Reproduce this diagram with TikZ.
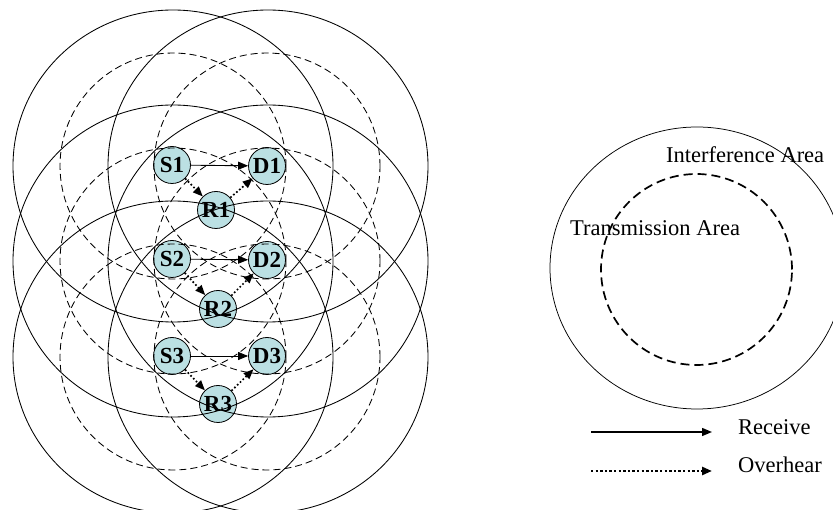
\documentclass[tikz,border=0pt]{standalone}
\usepackage{fontspec}
\setmainfont{Liberation Serif}
\usetikzlibrary{arrows.meta}
\definecolor{nodefill}{RGB}{187,224,227}
\begin{document}
\begin{tikzpicture}[x=1pt,y=-1pt,
  station/.style={circle,draw=black,line width=0.8pt,fill=nodefill,minimum size=37pt,inner sep=0pt,font=\fontsize{23}{23}\selectfont\bfseries},
  tiphead/.style={-{Triangle[length=10pt,width=8pt]}},
  recv/.style={line width=0.9pt,tiphead},
  over/.style={line width=1.7pt,dash pattern=on 1.7pt off 2.2pt,tiphead},
  intf/.style={line width=0.85pt},
  trans/.style={line width=0.85pt,dash pattern=on 7pt off 4pt},
  lbl/.style={anchor=base west,inner sep=0pt,font=\fontsize{22.5}{22.5}\selectfont}]
\path[use as bounding box, clip] (0,0) rectangle (833,510);
\fill[white] (0,0) rectangle (833,510);

% stations
\node[station] (S1) at (172,165) {S1};
\node[station] (D1) at (267,166) {D1};
\node[station] (R1) at (216,210) {R1};
\node[station] (S2) at (172,259) {S2};
\node[station] (D2) at (267,260) {D2};
\node[station] (R2) at (218,309) {R2};
\node[station] (S3) at (172,356) {S3};
\node[station] (D3) at (267,356) {D3};
\node[station] (R3) at (218,404) {R3};

% interference areas (solid)
\foreach \cx in {173,268}{
  \foreach \cy in {166,261,357}{
    \draw[intf] (\cx,\cy) ellipse [x radius=160pt, y radius=156pt];
  }
}
% transmission areas (dashed)
\foreach \cx in {173,267}{
  \foreach \cy in {166,261,357}{
    \draw[trans] (\cx,\cy) circle [radius=113pt];
  }
}

% connectors
\draw[recv] (S1) -- (D1);
\draw[over] (S1) -- (R1);
\draw[over] (R1) -- (D1);
\draw[recv] (S2) -- (D2);
\draw[over] (S2) -- (R2);
\draw[over] (R2) -- (D2);
\draw[recv] (S3) -- (D3);
\draw[over] (S3) -- (R3);
\draw[over] (R3) -- (D3);

% illustration on the right
\draw[line width=0.75pt] (697,268) ellipse [x radius=147pt, y radius=141pt];
\draw[line width=1.7pt,dash pattern=on 9pt off 5pt] (696.5,269.5) circle [radius=95.5pt];
\node[lbl] (ia) at (666,163) {Interference Area};
\node[lbl] (ta) at (570,236) {Transmission Area};

% legend
\coordinate (ra) at (591,432);
\coordinate (rb) at (712,432);
\coordinate (oa) at (591,471);
\coordinate (ob) at (712,471);
\draw[line width=1.4pt,tiphead] (ra) -- (rb);
\draw[line width=2.8pt,dash pattern=on 2.4pt off 2.2pt,tiphead] (oa) -- (ob);
\node[lbl] (rt) at (738,435) {Receive};
\node[lbl] (ot) at (738,472) {Overhear};
\end{tikzpicture}
\end{document}
